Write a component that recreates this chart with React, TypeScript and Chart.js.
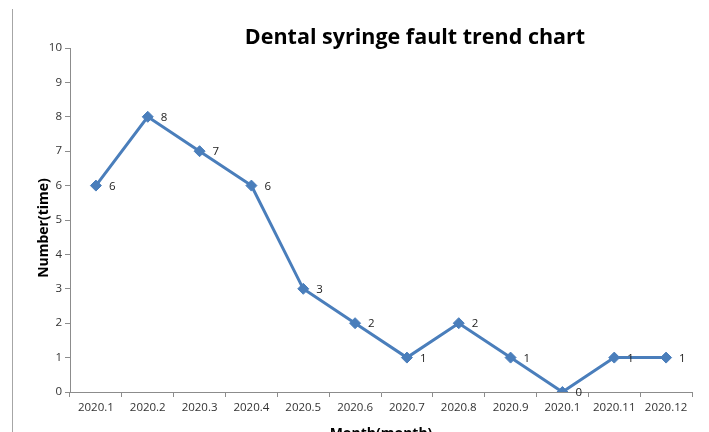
import React, { useEffect, useRef } from "react";
import { Chart, registerables } from "chart.js";

Chart.register(...registerables);

const categories = ["2020.1", "2020.2", "2020.3", "2020.4", "2020.5", "2020.6", "2020.7", "2020.8", "2020.9", "2020.1", "2020.11", "2020.12"];
const faults = [6, 8, 7, 6, 3, 2, 1, 2, 1, 0, 1, 1];
const chartTitle = "Dental syringe fault trend chart";
const xTitle = "Month(month)";
const yTitle = "Number(time)";

const FONT = "'Open Sans', 'Liberation Sans', sans-serif";
const LINE = "#4a7ebb";
const AXIS = "#8c8c8c";

const decor = {
  id: "decor",
  afterDatasetsDraw(chart: any) {
    const { ctx } = chart;
    ctx.save();
    // left border line
    ctx.strokeStyle = "#a6a6a6";
    ctx.lineWidth = 1;
    ctx.beginPath();
    ctx.moveTo(12.5, 9);
    ctx.lineTo(12.5, 432);
    ctx.stroke();
    // title
    ctx.fillStyle = "#000";
    ctx.font = `bold 21.5px ${FONT}`;
    ctx.textAlign = "center";
    ctx.textBaseline = "middle";
    ctx.fillText(chartTitle, 415, 38);
    // x title
    ctx.font = `bold 14px ${FONT}`;
    ctx.fillText(xTitle, 381, 434);
    // y title
    ctx.save();
    ctx.translate(44, 228);
    ctx.rotate(-Math.PI / 2);
    ctx.font = `bold 14px ${FONT}`;
    ctx.fillText(yTitle, 0, 0);
    ctx.restore();
    // data labels
    const meta = chart.getDatasetMeta(0);
    ctx.font = `11.5px ${FONT}`;
    ctx.fillStyle = "#222";
    ctx.textAlign = "left";
    ctx.textBaseline = "middle";
    meta.data.forEach((pt: any, i: number) => {
      ctx.fillText(String(faults[i]), pt.x + 13, pt.y + 1);
    });
    ctx.restore();
  },
};

export default function App() {
  const ref = useRef<HTMLCanvasElement>(null);
  useEffect(() => {
    document.body.style.margin = "0";
    const chart = new Chart(ref.current!, {
      type: "line",
      data: {
        labels: categories,
        datasets: [
          {
            data: faults,
            borderColor: LINE,
            backgroundColor: LINE,
            borderWidth: 3,
            pointStyle: "rectRot",
            pointRadius: 5.5,
            pointBorderWidth: 1,
            tension: 0,
          },
        ],
      },
      options: {
        responsive: false,
        animation: false,
        layout: { padding: { left: 0, top: 48, right: 17, bottom: 0 } },
        plugins: { legend: { display: false }, tooltip: { enabled: false }, title: { display: false } },
        scales: {
          x: {
            type: "category",
            offset: true,
            grid: { offset: true, drawOnChartArea: false, tickLength: 5, color: AXIS },
            border: { color: AXIS, width: 1 },
            ticks: { color: "#333", font: { family: FONT, size: 11.5 }, padding: 4, maxRotation: 0, autoSkip: false },
            afterFit: (s: any) => { s.height = 40; },
          },
          y: {
            min: 0,
            max: 10,
            ticks: { stepSize: 1, color: "#333", font: { family: FONT, size: 11.5 }, padding: 3 },
            grid: { drawOnChartArea: false, tickLength: 5, color: AXIS },
            border: { color: AXIS, width: 1 },
            afterFit: (s: any) => { s.width = 70; },
          },
        },
      },
      plugins: [decor],
    });
    return () => chart.destroy();
  }, []);
  return (
    <div style={{ width: 709, height: 432 }}>
      <canvas ref={ref} width={709} height={432} style={{ display: "block" }} />
    </div>
  );
}
